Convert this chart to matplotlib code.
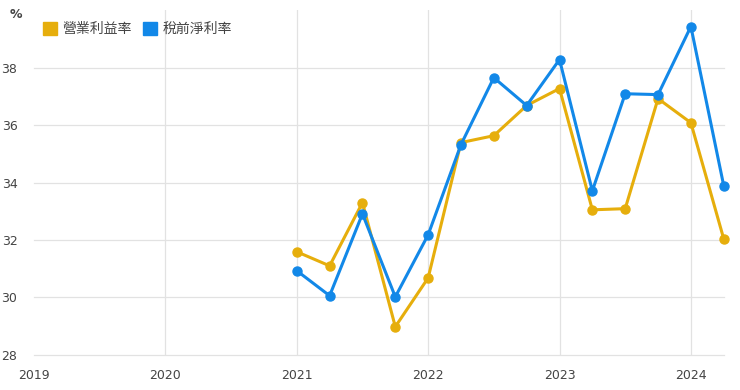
import matplotlib
matplotlib.use("Agg")
import matplotlib.pyplot as plt
from matplotlib.patches import Patch

plt.rcParams['font.family'] = ['Noto Sans CJK TC', 'DejaVu Sans']

quarters = [2021.0, 2021.25, 2021.5, 2021.75, 2022.0, 2022.25, 2022.5, 2022.75,
            2023.0, 2023.25, 2023.5, 2023.75, 2024.0, 2024.25]
operating_margin = [31.59, 31.10, 33.30, 28.98, 30.68, 35.39, 35.63, 36.68,
                    37.27, 33.05, 33.09, 36.92, 36.08, 32.04]
pretax_margin = [30.93, 30.06, 32.91, 30.02, 32.18, 35.32, 37.65, 36.68,
                 38.28, 33.71, 37.09, 37.06, 39.43, 33.89]
series_names = ['營業利益率', '稅前淨利率']
year_ticks = [2019, 2020, 2021, 2022, 2023, 2024]
y_ticks = [28, 30, 32, 34, 36, 38]

c_orange = '#E6AE0C'
c_blue = '#1288E8'
txt = '#444444'
grid = '#E2E2E2'

fig = plt.figure(figsize=(7.4, 3.9), dpi=100)
ax = fig.add_axes([0.046, 0.090, 0.932, 0.884])

ax.plot(quarters, operating_margin, color=c_orange, lw=2.2, marker='o', ms=6.5, zorder=3,
        clip_on=False)
ax.plot(quarters, pretax_margin, color=c_blue, lw=2.2, marker='o', ms=6.5, zorder=4,
        clip_on=False)

ax.set_xlim(2019, 2024.25)
ax.set_ylim(28, 40)
ax.set_xticks(year_ticks)
ax.set_xticklabels([str(y) for y in year_ticks])
ax.set_yticks(y_ticks)
ax.grid(True, color=grid, lw=0.9)
ax.get_xgridlines()[0].set_visible(False)
for gl in ax.get_ygridlines():
    gl.set_clip_on(False)
ax.set_axisbelow(True)
for s in ax.spines.values():
    s.set_visible(False)
ax.tick_params(axis='both', length=0, labelsize=9, colors=txt)
ax.tick_params(axis='x', pad=10)
ax.tick_params(axis='y', pad=12)
for lab in ax.get_xticklabels() + ax.get_yticklabels():
    lab.set_family('DejaVu Sans')

fig.text(0.013, 0.963, '%', fontsize=9, color=txt, fontweight='bold', va='center',
         family='DejaVu Sans')

handles = [Patch(color=c_orange), Patch(color=c_blue)]
ax.legend(handles, series_names, loc='upper left', bbox_to_anchor=(0.003, 0.985),
          frameon=False, ncol=2, fontsize=10, labelcolor=txt,
          handlelength=1.0, handleheight=1.0, handletextpad=0.4, columnspacing=0.8,
          borderaxespad=0.3, borderpad=0.2)

fig.savefig('out.png', dpi=100)
